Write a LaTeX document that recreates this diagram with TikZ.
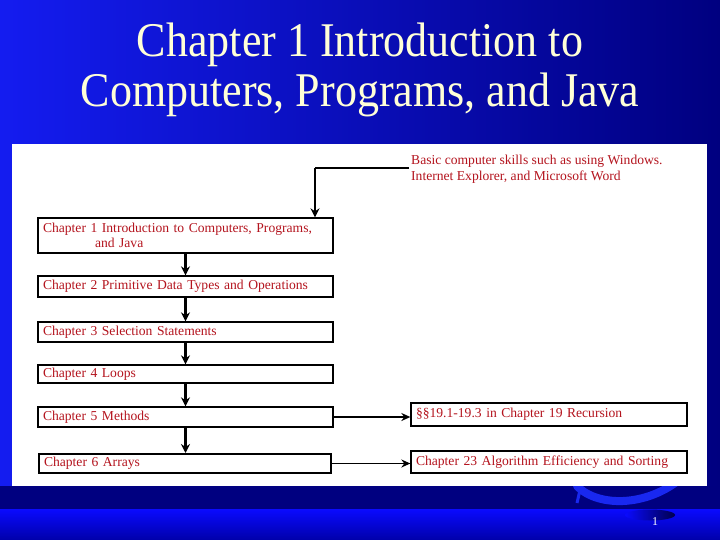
\documentclass[tikz,border=0pt]{standalone}
\usepackage{fontspec}
\setmainfont{Liberation Serif}
\usetikzlibrary{arrows.meta}
\definecolor{navy}{RGB}{0,0,128}
\definecolor{brightblue}{RGB}{20,28,240}
\definecolor{titlecol}{RGB}{255,255,215}
\definecolor{boxred}{RGB}{180,20,30}
\definecolor{swoosh}{RGB}{25,40,240}
\definecolor{bandtop}{RGB}{10,10,255}
\definecolor{bandbot}{RGB}{0,0,170}
\tikzset{
  chbox/.style={draw=black, line width=1.3pt, fill=white, text=boxred, font=\fontsize{13.6}{14.5}\selectfont, minimum width=295pt, inner xsep=5pt, inner ysep=0pt, align=left, text width=285pt},
  rbox/.style={draw=black, line width=1.3pt, fill=white, text=boxred, font=\fontsize{13.6}{14.5}\selectfont, minimum width=276pt, inner xsep=5pt, inner ysep=0pt, align=left, text width=266pt},
  varr/.style={line width=2.6pt, -{Stealth[length=9pt,width=9pt]}},
  harr/.style={line width=1.8pt, -{Stealth[length=9pt,width=8pt]}},
  ttl/.style={text=titlecol, font=\fontsize{44}{46}\selectfont, anchor=base, yscale=1.1, inner sep=0pt}
}
\begin{document}
\begin{tikzpicture}[x=1pt,y=-1pt]
\useasboundingbox (0,0) rectangle (720,540);
% background
\shade[left color=brightblue, right color=navy] (0,0) rectangle (720,540);
\fill[navy] (0,486) rectangle (720,510);
% swoosh
\draw[swoosh, line width=8pt, line cap=round] (577,486) .. controls (598,508) and (652,508) .. (688,472);
\draw[swoosh, line width=3pt] (580,490) -- (577,503);
% bottom band
\shade[top color=bandtop, bottom color=bandbot] (0,509) rectangle (720,540);
\shade[left color=bandtop, right color=navy!60!black] (650,515) ellipse[x radius=25, y radius=5.5];
% white panel
\fill[white] (12,144) rectangle (707,486);
% title
\node[ttl] (title1) at (360,57) {Chapter 1 Introduction to};
\node[ttl] (title2) at (360,107) {Computers, Programs, and Java};
% boxes
\node[chbox, minimum height=35pt] (c1) at (185.5,235.5) {Chapter 1 Introduction to Computers, Programs,\\\hspace*{52pt}and Java};
\node[chbox, minimum height=21pt] (c2) at (185.5,286.5) {Chapter 2 Primitive Data Types and Operations};
\node[chbox, minimum height=20pt] (c3) at (185.5,332) {Chapter 3 Selection Statements};
\node[chbox, minimum height=18pt] (c4) at (185.5,374) {Chapter 4 Loops};
\node[chbox, minimum height=20pt] (c5) at (185.5,417) {Chapter 5 Methods};
\node[chbox, minimum height=19pt, line width=2pt, minimum width=292pt, text width=282pt] (c6) at (185,463.5) {Chapter 6 Arrays};
\node[rbox, minimum height=23pt] (rec) at (549,414.5) {\S\S19.1-19.3 in Chapter 19 Recursion};
\node[rbox, minimum height=22pt] (sort) at (549,462) {Chapter 23 Algorithm Efficiency and Sorting};
\node[anchor=north west, inner sep=0pt, text=boxred, font=\fontsize{13.6}{16}\selectfont, align=left] (basic) at (411,155) {Basic computer skills such as using Windows.\\Internet Explorer, and Microsoft Word};
% page number
\node[text=white, font=\fontsize{12}{14}\selectfont, inner sep=0pt] (pg) at (655,522) {1};
% connectors
\coordinate (bend) at (315,168);
\coordinate (bstart) at (409,168);
\draw[line width=1.3pt] (bstart) -- (bend);
\draw[varr] (bend) -- (bend |- c1.north);
\draw[varr] (c1.south) -- (c2.north);
\draw[varr] (c2.south) -- (c3.north);
\draw[varr] (c3.south) -- (c4.north);
\draw[varr] (c4.south) -- (c5.north);
\draw[varr] (c5.south) -- (c5.south |- c6.north);
\draw[harr] (c5.east) -- (c5.east -| rec.west);
\draw[harr] (c6.east) -- (c6.east -| sort.west);
\end{tikzpicture}
\end{document}
